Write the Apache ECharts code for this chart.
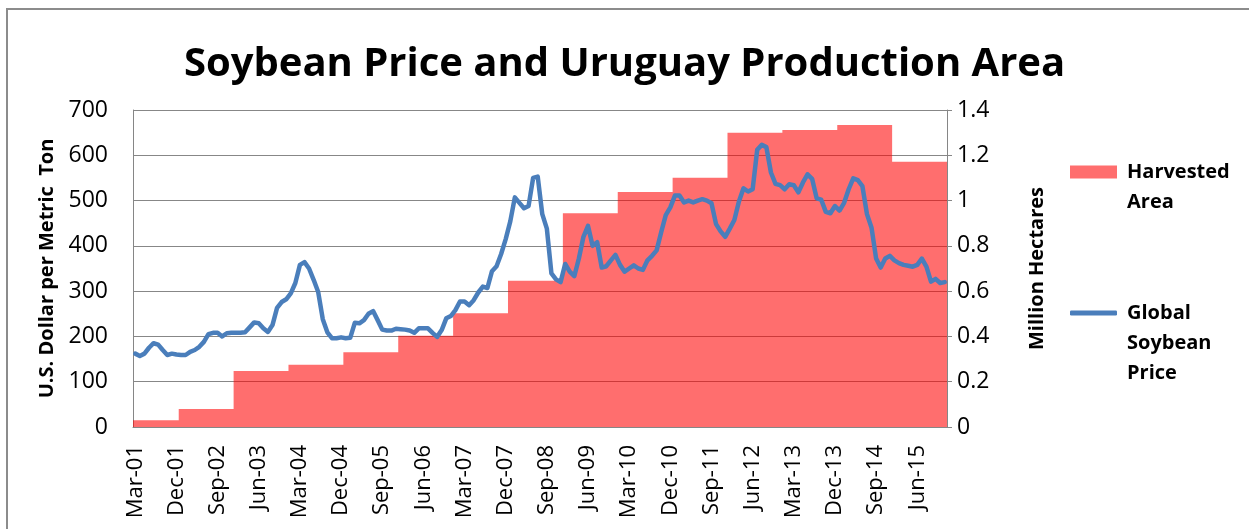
<!DOCTYPE html>
<html>
<head>
<meta charset="utf-8">
<script src="https://cdn.jsdelivr.net/npm/echarts@6.0.0/dist/echarts.min.js"></script>
<style>
html,body{margin:0;padding:0;background:#ffffff;}
#chart{width:1249px;height:529px;}
</style>
</head>
<body>
<div id="chart"></div>
<script>
// ---- data ----
const monthNames = ['Jan','Feb','Mar','Apr','May','Jun','Jul','Aug','Sep','Oct','Nov','Dec'];
const startYear = 2001;
const startMonth = 2; // March
// Global soybean price, US$ per metric ton, monthly from Mar-01
const price = [162,157,162,175,185,182,170,159,162,160,
159,159,166,170,177,188,205,208,208,200,
207,208,208,208,209,220,231,229,218,210,
225,263,276,282,295,318,358,364,350,325,
298,238,209,196,196,198,196,197,230,229,
236,250,256,236,215,213,213,217,216,215,
213,208,218,218,218,208,199,214,240,245,
258,277,277,269,280,297,310,307,344,355,
382,415,454,507,495,483,488,550,553,470,
438,339,326,320,360,343,333,372,420,444,
400,408,352,355,368,380,358,343,350,357,
350,347,368,378,390,430,468,485,511,511,
496,500,496,500,503,500,494,448,432,420,
438,457,498,527,520,525,612,623,618,562,
537,534,525,536,534,518,540,558,548,505,
502,475,472,488,478,495,525,549,545,532,
470,440,372,352,372,378,368,362,358,356,
354,358,372,354,321,327,318,320];
// Uruguay soybean harvested area, million hectares, per calendar year
const areaYears  = [2001,2002,2003,2004,2005,2006,2007,2008,2009,2010,2011,2012,2013,2014,2015];
const areaValues = [0.03,0.08,0.247,0.275,0.33,0.403,0.502,0.646,0.944,1.038,1.101,1.30,1.312,1.334,1.172];
const leftTicks  = {min:0, max:700, step:100};
const rightTicks = {min:0, max:1.4, step:0.2};
const legendLines = {
  'Harvested Area': ['Harvested', 'Area'],
  'Global Soybean Price': ['Global', 'Soybean', 'Price']
};

// ---- derived tables ----
const categories = price.map((_, i) => {
  const m = (startMonth + i) % 12;
  const y = startYear + Math.floor((startMonth + i) / 12);
  return monthNames[m] + '-' + String(y % 100).padStart(2, '0');
});
const monthYear = price.map((_, i) => startYear + Math.floor((startMonth + i) / 12));
const areaMonthly = monthYear.map(y => areaValues[areaYears.indexOf(y)]);
// boundaries between months (one more than months) for the stepped area
const boundaryCats = categories.concat(['end']);
const areaBoundary = areaMonthly.concat([areaMonthly[areaMonthly.length - 1]]);

// legend text: first line level with the icon (blank lines above balance the block)
function legendText(name) {
  const lines = legendLines[name];
  const pad = new Array(lines.length - 1).fill(' ');
  return pad.concat(lines).join('\n');
}

const FONT = 'Open Sans';
const LH = 30;
const chart = echarts.init(document.getElementById('chart'), null, {renderer: 'canvas'});
chart.setOption({
  backgroundColor: '#ffffff',
  animation: false,
  title: {
    text: 'Soybean Price and Uruguay Production Area',
    left: 'center',
    top: 40,
    textStyle: {fontFamily: FONT, fontWeight: 'bold', fontSize: 40, color: '#000000'}
  },
  grid: {left: 133, right: 302, top: 110, bottom: 102, containLabel: false, outerBoundsMode: 'none'},
  legend: [
    {
      data: [{name: 'Harvested Area', icon: 'rect'}],
      left: 1070, top: 172 - LH * 1.5,
      padding: 0,
      orient: 'vertical',
      itemWidth: 47, itemHeight: 13, itemGap: 0,
      selectedMode: false,
      formatter: legendText,
      textStyle: {fontFamily: FONT, fontWeight: 'bold', fontSize: 20, color: '#000', lineHeight: LH, padding: [0, 0, 0, 5]}
    },
    {
      data: [{name: 'Global Soybean Price', icon: 'roundRect', itemStyle: {color: '#4a7ebb'}}],
      left: 1070, top: 313 - LH * 2.5,
      padding: 0,
      orient: 'vertical',
      itemWidth: 47, itemHeight: 5, itemGap: 0,
      selectedMode: false,
      formatter: legendText,
      textStyle: {fontFamily: FONT, fontWeight: 'bold', fontSize: 20, color: '#000', lineHeight: LH, padding: [0, 0, 0, 5]}
    }
  ],
  xAxis: [
    {
      type: 'category',
      data: categories,
      boundaryGap: true,
      position: 'bottom',
      axisLine: {show: true, lineStyle: {color: '#868686', width: 1}},
      axisTick: {show: false},
      axisLabel: {interval: 8, rotate: 90, margin: 18, fontFamily: FONT, fontSize: 22, color: '#000', hideOverlap: false},
      splitLine: {show: false}
    },
    {
      type: 'category',
      data: boundaryCats,
      boundaryGap: false,
      show: false
    }
  ],
  yAxis: [
    {
      type: 'value',
      position: 'left',
      min: leftTicks.min, max: leftTicks.max, interval: leftTicks.step,
      name: 'U.S. Dollar per Metric  Ton',
      nameLocation: 'middle', nameRotate: 90, nameGap: 76,
      nameTextStyle: {fontFamily: FONT, fontWeight: 'bold', fontSize: 20, color: '#000'},
      axisLine: {show: true, lineStyle: {color: '#868686', width: 1}},
      axisTick: {show: false},
      axisLabel: {margin: 25, fontFamily: FONT, fontSize: 23, color: '#000'},
      splitLine: {show: true, lineStyle: {color: '#878787', width: 1}}
    },
    {
      type: 'value',
      position: 'right',
      min: rightTicks.min, max: rightTicks.max, interval: rightTicks.step,
      name: 'Million Hectares',
      nameLocation: 'middle', nameRotate: 90, nameGap: 80,
      nameTextStyle: {fontFamily: FONT, fontWeight: 'bold', fontSize: 20, color: '#000'},
      axisLine: {show: true, lineStyle: {color: '#868686', width: 1}},
      axisTick: {show: true, inside: false, length: 5, lineStyle: {color: '#868686'}},
      axisLabel: {margin: 10, fontFamily: FONT, fontSize: 23, color: '#000',
        formatter: v => String(Math.round(v * 10) / 10)},
      splitLine: {show: false}
    }
  ],
  series: [
    {
      name: 'Harvested Area',
      type: 'line',
      xAxisIndex: 1, yAxisIndex: 1,
      data: areaBoundary,
      step: 'end',
      symbol: 'none',
      lineStyle: {width: 0, color: 'rgba(255,0,0,0.57)'},
      itemStyle: {color: 'rgba(255,0,0,0.57)'},
      areaStyle: {color: 'rgba(255,0,0,0.57)', opacity: 1},
      z: 1
    },
    {
      name: 'Global Soybean Price',
      type: 'line',
      xAxisIndex: 0, yAxisIndex: 0,
      data: price,
      symbol: 'none',
      showSymbol: false,
      smooth: false,
      lineStyle: {width: 4.5, color: '#4a7ebb', join: 'round', cap: 'round'},
      itemStyle: {color: '#4a7ebb'},
      z: 3
    }
  ],
  graphic: [
    {
      type: 'rect',
      silent: true,
      shape: {x: 7, y: 9, width: 1260, height: 560},
      style: {fill: 'none', stroke: '#8c8c8c', lineWidth: 2},
      z: -1
    }
  ]
});
</script>
</body>
</html>
